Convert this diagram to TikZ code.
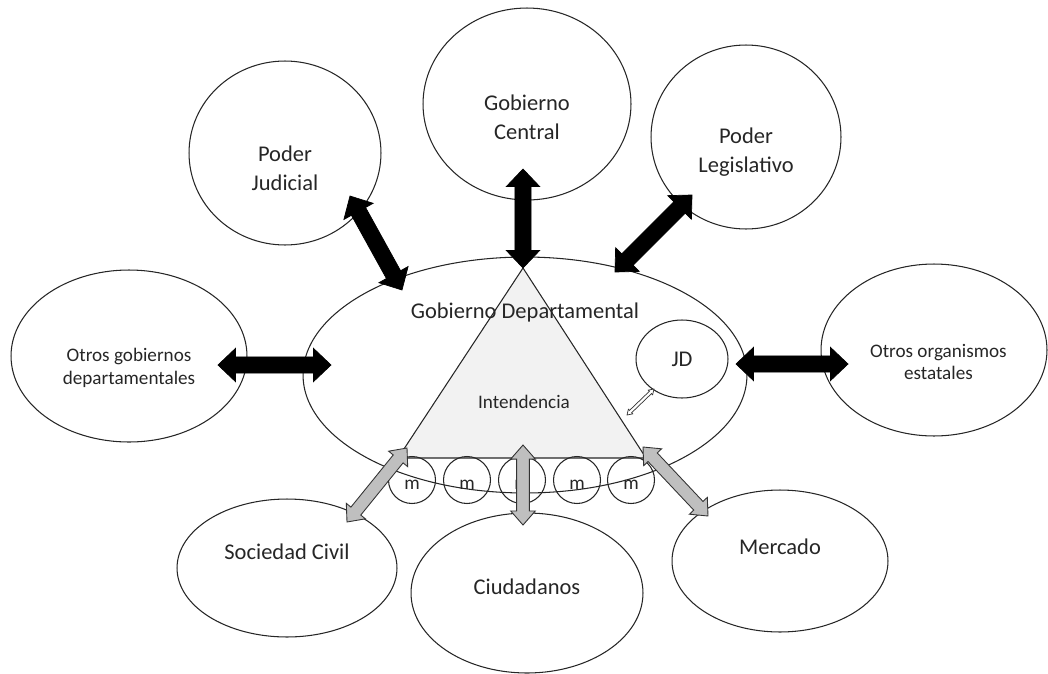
\documentclass[tikz,border=0pt]{standalone}
\usepackage{fontspec}
\setmainfont{Carlito}
\usetikzlibrary{calc,positioning,shapes.geometric}

\begin{document}
\begin{tikzpicture}[
    x=0.02cm, y=-0.02cm,
    actor_node/.style={draw=black!85, line width=0.6pt, ellipse, inner sep=0pt},
    big_txt/.style={font=\fontsize{12.8}{16.4}\selectfont, align=center, text=black!85},
    small_txt/.style={font=\fontsize{10.9}{13}\selectfont, align=center, text=black!85},
    m_node/.style={draw=black!85, line width=0.6pt, circle, minimum size=0.94cm, inner sep=0pt},
    % block arrow between two points: head length, head half width, shaft half width
    rel_arrow/.style n args={3}{to path={let \p1=(\tikztostart), \p2=(\tikztotarget) in
        -- ($(\p1)!#1!(\p2)!#2!90:(\p2)$)
        -- ($(\p1)!#1!(\p2)!#3!90:(\p2)$)
        -- ($(\p2)!#1!(\p1)!#3!-90:(\p1)$)
        -- ($(\p2)!#1!(\p1)!#2!-90:(\p1)$)
        -- (\p2)
        -- ($(\p2)!#1!(\p1)!#2!90:(\p1)$)
        -- ($(\p2)!#1!(\p1)!#3!90:(\p1)$)
        -- ($(\p1)!#1!(\p2)!#3!-90:(\p2)$)
        -- ($(\p1)!#1!(\p2)!#2!-90:(\p2)$)
        -- cycle}},
    black_arrow/.style={fill=black, draw=black, line width=0.4pt, rel_arrow={10pt}{9.5pt}{4.6pt}},
    gray_arrow/.style={fill=gray!50, draw=black!80, line width=0.5pt, rel_arrow={8pt}{7pt}{3.6pt}},
    jd_arrow/.style={fill=white, draw=black!80, line width=0.4pt, rel_arrow={2.8pt}{1.8pt}{0.9pt}}
]
\useasboundingbox (0,0) rectangle (1048,673);

% --- NODES ---

% Outer actors (top row)
\node[actor_node, minimum width=3.84cm, minimum height=3.68cm,
      label={[big_txt, yshift=-8.5pt]center:{Poder\\Judicial}}] (judicial) at (285,153) {};
\node[actor_node, minimum width=4.16cm, minimum height=3.84cm,
      label={[big_txt, yshift=-7.4pt]center:{Gobierno\\Central}}] (central) at (527,104) {};
\node[actor_node, minimum width=3.8cm, minimum height=3.68cm,
      label={[big_txt, yshift=-8.5pt]center:{Poder\\Legislativo}}] (legislativo) at (746,137) {};

% Side actors
\node[actor_node, minimum width=4.72cm, minimum height=3.44cm,
      label={[small_txt, yshift=-6.8pt]center:{Otros gobiernos\\departamentales}}] (otros_gob) at (129,356) {};
\node[actor_node, minimum width=4.52cm, minimum height=3.44cm,
      label={[small_txt, yshift=-6.8pt, xshift=2.5pt]center:{Otros organismos\\estatales}}] (organismos) at (934,350) {};

% Bottom actors
\node[actor_node, minimum width=4.4cm, minimum height=2.76cm,
      label={[big_txt, yshift=9pt]center:{Sociedad Civil}}] (sociedad) at (287,568) {};
\node[actor_node, minimum width=4.64cm, minimum height=3.2cm,
      label={[big_txt, yshift=3.4pt]center:{Ciudadanos}}] (ciudadanos) at (527,593) {};
\node[actor_node, minimum width=4.32cm, minimum height=2.84cm,
      label={[big_txt, yshift=8pt]center:{Mercado}}] (mercado) at (780,561) {};

% Departmental government
\node[actor_node, minimum width=8.88cm, minimum height=4.72cm] (dep) at (525,375) {};

% Intendencia triangle
\coordinate (apex) at (523,268);
\coordinate (base_l) at (398,458);
\coordinate (base_r) at (646,458);
\draw[fill=black!5, draw=black!85, line width=0.6pt] (apex) -- (base_l) -- (base_r) -- cycle;

\node[big_txt] (dep_txt) at (525,312) {Gobierno Departamental};
\node[small_txt] (intendencia) at (524,402) {Intendencia};
\node[actor_node, minimum width=1.84cm, minimum height=1.56cm, big_txt] (jd) at (682,359) {JD};

% Municipios
\node[m_node, label={[big_txt, font=\fontsize{11}{11}\selectfont, yshift=-3pt]center:m}] (m1) at (412,480) {};
\node[m_node, label={[big_txt, font=\fontsize{11}{11}\selectfont, yshift=-3pt]center:m}] (m2) at (467,480) {};
\node[m_node, label={[big_txt, font=\fontsize{11}{11}\selectfont, yshift=-3pt]center:m}] (m3) at (522,480) {};
\node[m_node, label={[big_txt, font=\fontsize{11}{11}\selectfont, yshift=-3pt]center:m}] (m4) at (577,480) {};
\node[m_node, label={[big_txt, font=\fontsize{11}{11}\selectfont, yshift=-3pt]center:m}] (m5) at (631,480) {};

% --- EDGES ---

% Relations with the other powers
\draw[black_arrow] ($(judicial)+(65,43)$) to ($(dep)+(-123,-85)$);
\draw[black_arrow] ($(central)+(-4,65)$) to (apex);
\draw[black_arrow] ($(legislativo)+(-54,58)$) to ($(dep)+(90,-103)$);
\draw[black_arrow] ($(otros_gob)+(89,9)$) to ($(dep)+(-194,-10)$);
\draw[black_arrow] ($(dep)+(211,-11)$) to ($(organismos)+(-86,14)$);

% Relations with society
\draw[gray_arrow] ($(base_l)+(9,-10)$) to ($(sociedad)+(60,-46)$);
\draw[gray_arrow] ($(m3)+(1,-35)$) to ($(ciudadanos)+(-4,-68)$);
\draw[gray_arrow] ($(base_r)+(-3,-11)$) to ($(mercado)+(-72,-45)$);

% Intendencia - JD
\draw[jd_arrow] ($(dep)+(102,40)$) to ($(jd)+(-28,30)$);

\end{tikzpicture}
\end{document}
